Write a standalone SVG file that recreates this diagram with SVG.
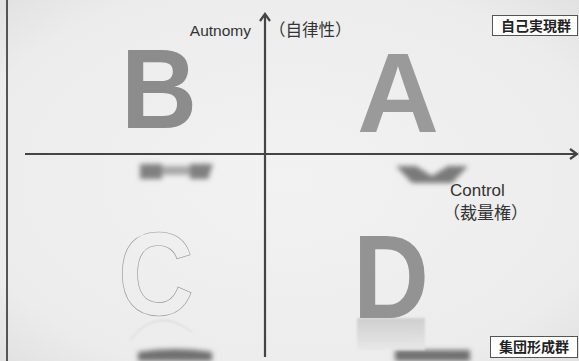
<svg xmlns="http://www.w3.org/2000/svg" width="579" height="361" viewBox="0 0 579 361">
<defs>
<style>
.big{font-family:"Liberation Sans",Arial,sans-serif;font-weight:bold;}
.lbl{font-family:"Liberation Sans","Noto Sans CJK JP",sans-serif;fill:#333;}
.box{fill:#fff;stroke:#555;stroke-width:1;}
.boxt{font-family:"Noto Sans CJK JP",sans-serif;font-weight:bold;font-size:14px;fill:#222;}
.axis{stroke:#444;stroke-width:2.2;fill:none;}
</style>
<radialGradient id="bg" cx="50%" cy="50%" r="70%">
<stop offset="0" stop-color="#f2f2f2"/>
<stop offset="0.8" stop-color="#ececec"/>
<stop offset="1" stop-color="#e2e2e2"/>
</radialGradient>
<filter id="blur" x="-30%" y="-80%" width="160%" height="260%"><feGaussianBlur stdDeviation="2.8"/></filter>
<filter id="blur2" x="-30%" y="-80%" width="160%" height="260%"><feGaussianBlur stdDeviation="1"/></filter>
<linearGradient id="fadeD" x1="0" y1="0" x2="0" y2="1">
<stop offset="0" stop-color="#c8c8c8"/>
<stop offset="1" stop-color="#e8e8e8"/>
</linearGradient>
<marker id="ah" markerWidth="12" markerHeight="12" refX="9" refY="6" orient="auto" markerUnits="userSpaceOnUse">
<path d="M2,1 L9,6 L2,11" fill="none" stroke="#444" stroke-width="2.2"/>
</marker>
</defs>
<rect width="579" height="361" fill="url(#bg)"/>
<line x1="7" y1="0" x2="7" y2="361" stroke="#555" stroke-width="2"/>

<g id="reflections">
<g filter="url(#blur)" fill="#808080">
<rect x="140" y="164" width="22" height="15"/>
<rect x="162" y="166" width="28" height="9" fill="#a8a8a8"/>
<path d="M190,164 L213,164 L208,179 L190,179 Z"/>
<path d="M396,166 L416,166 L432,176 L448,166 L468,166 L452,183 L412,183 Z" fill="#7a7a7a"/>
<path d="M138,361 L138,352 Q175,346 212,352 L212,361 Z" fill="#707070"/>
<rect x="395" y="350" width="75" height="11" fill="#707070"/>
</g>
<path d="M130,340 Q157,305 192,332" fill="none" stroke="#d0d0d0" stroke-width="1" filter="url(#blur2)"/>
<path d="M357,318 L425,318 L425,350 L357,350 Z" fill="url(#fadeD)" opacity="0.8" filter="url(#blur2)"/>
</g>

<g id="node-B"><text class="big" x="121" y="128" font-size="113" fill="#8c8c8c" textLength="76" lengthAdjust="spacingAndGlyphs">B</text></g>
<g id="node-A"><text class="big" x="357" y="132" font-size="113" fill="#9a9a9a" textLength="82" lengthAdjust="spacingAndGlyphs">A</text></g>
<g id="node-C"><text class="big" x="118" y="315" font-size="118" fill="none" stroke="#999" stroke-width="0.7" textLength="76" lengthAdjust="spacingAndGlyphs">C</text></g>
<g id="node-D"><text class="big" x="353" y="318" font-size="118" fill="#939393" textLength="76" lengthAdjust="spacingAndGlyphs">D</text></g>

<g id="connectors">
<line class="axis" x1="25" y1="154" x2="577" y2="154" marker-end="url(#ah)"/>
<line class="axis" x1="265" y1="357" x2="265" y2="14" marker-end="url(#ah)"/>
</g>

<g id="axis-labels">
<text class="lbl" x="251" y="36" font-size="15.5" text-anchor="end">Autnomy</text>
<text class="lbl" x="269" y="36" font-size="16.5">（自律性）</text>
<text class="lbl" x="450" y="196" font-size="17">Control</text>
<text class="lbl" x="443" y="219" font-size="17">（裁量権）</text>
</g>

<g id="node-self">
<rect class="box" x="492.5" y="15.5" width="85" height="20"/>
<text class="boxt" x="536" y="30.5" text-anchor="middle">自己実現群</text>
</g>
<g id="node-group">
<rect class="box" x="490.5" y="336.5" width="87" height="21"/>
<text class="boxt" x="534" y="352" text-anchor="middle">集団形成群</text>
</g>
</svg>
